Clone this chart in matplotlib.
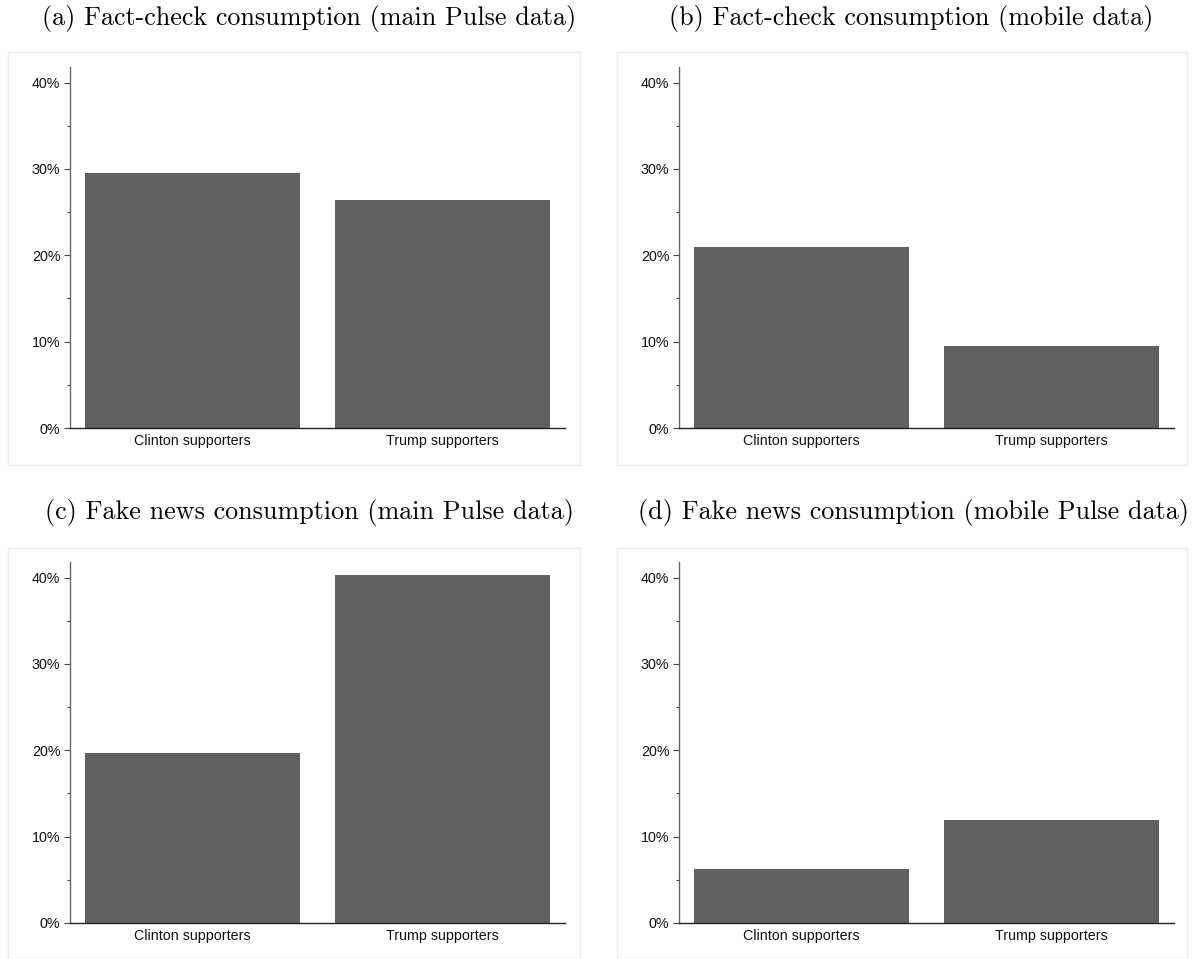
import matplotlib
matplotlib.use("Agg")
import matplotlib.pyplot as plt
from matplotlib.patches import Rectangle
from matplotlib.ticker import MultipleLocator, FuncFormatter

groups = ["Clinton supporters", "Trump supporters"]
factcheck_main = [29.5, 26.4]
factcheck_mobile = [21.0, 9.5]
fakenews_main = [19.65, 40.3]
fakenews_mobile = [6.25, 11.95]

titles = [
    "(a) Fact-check consumption (main Pulse data)",
    "(b) Fact-check consumption (mobile data)",
    "(c) Fake news consumption (main Pulse data)",
    "(d) Fake news consumption (mobile Pulse data)",
]
series = [factcheck_main, factcheck_mobile, fakenews_main, fakenews_mobile]

BAR = "#606060"
SANS = ["Liberation Sans", "DejaVu Sans"]
SERIF = ["cmr10", "DejaVu Serif"]

fig = plt.figure(figsize=(12.02, 9.59), dpi=100)

# panel geometry in pixels (y axis x, zero line y, box extents, title centre)
panels = [
    dict(ax_x=70, ax_y0=428, box=(8, 52, 580, 465), title=(309, 18)),
    dict(ax_x=679, ax_y0=428, box=(617, 52, 1187, 465), title=(911, 18)),
    dict(ax_x=70, ax_y0=923, box=(8, 548, 580, 959), title=(309, 513)),
    dict(ax_x=679, ax_y0=923, box=(617, 548, 1187, 959), title=(913, 513)),
]
W, H = 1202, 959
ax_w, ax_h = 495, 361

for vals, title, p in zip(series, titles, panels):
    bx0, by0, bx1, by1 = p["box"]
    fig.patches.append(Rectangle((bx0 / W, 1 - by1 / H), (bx1 - bx0) / W, (by1 - by0) / H,
                                 transform=fig.transFigure, facecolor="none",
                                 edgecolor="#ececec", linewidth=1.0, zorder=-1))
    ax = fig.add_axes([p["ax_x"] / W, 1 - p["ax_y0"] / H, ax_w / W, ax_h / H])
    ax.patch.set_alpha(0)
    ax.bar(range(len(groups)), vals, width=0.86, color=BAR, zorder=2)
    ax.set_xlim(-0.49, 1.49)
    ax.set_ylim(0, 41.8)
    ax.yaxis.set_major_locator(MultipleLocator(10))
    ax.yaxis.set_minor_locator(MultipleLocator(5))
    ax.yaxis.set_major_formatter(FuncFormatter(lambda v, _: f"{v:.0f}%"))
    ax.set_xticks(range(len(groups)))
    ax.set_xticklabels(groups)
    for s in ("top", "right"):
        ax.spines[s].set_visible(False)
    ax.spines["left"].set_color("#666666")
    ax.spines["left"].set_linewidth(1.0)
    ax.spines["bottom"].set_color("#222222")
    ax.spines["bottom"].set_linewidth(1.0)
    ax.tick_params(axis="x", length=0, pad=4)
    ax.tick_params(axis="y", which="major", length=4, width=0.8, color="#444444", pad=3)
    ax.tick_params(axis="y", which="minor", length=2.5, width=0.8, color="#444444")
    for lab in ax.get_xticklabels() + ax.get_yticklabels():
        lab.set_family(SANS)
        lab.set_fontsize(10.3)
        lab.set_color("#111111")
    fig.text(p["title"][0] / W, 1 - p["title"][1] / H, title, family=SERIF,
             fontsize=18.8, ha="center", va="center", color="black")

fig.savefig("out.png", dpi=100)
